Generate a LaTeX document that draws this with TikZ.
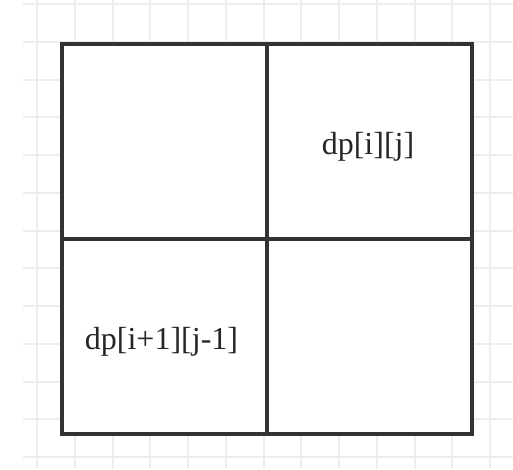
\documentclass[tikz,border=0pt]{standalone}
\usepackage{fontspec}
\setmainfont{Liberation Serif}
\usetikzlibrary{positioning}
\begin{document}
\begin{tikzpicture}
  [x=1pt,y=-1pt,
   gridline/.style={line width=2pt, color=black!7},
   cell/.style={rectangle, draw=black!80, fill=white, line width=4pt, inner sep=0pt, outer sep=0pt, minimum width=205pt, minimum height=195pt},
   lbl/.style={inner sep=0pt, text=black!85, font=\fontsize{32}{38}\selectfont}]

 \useasboundingbox (0,0) rectangle (513,469);
 \fill[white] (0,0) rectangle (513,469);

 \foreach \k in {0,...,12}
   \draw[gridline] (37+37.75*\k,0) -- (37+37.75*\k,469);
 \foreach \k in {0,...,12}
   \draw[gridline] (23,4+37.75*\k) -- (513,4+37.75*\k);

 \node[cell] (c11) at (164.5,141) {};
 \node[cell, right=0pt of c11] (c12) {};
 \node[cell, below=0pt of c11] (c21) {};
 \node[cell, right=0pt of c21] (c22) {};

 \node[lbl] (t12) at ([shift={(-1.5,6)}]c12.center) {dp[i][j]};
 \node[lbl] (t21) at ([shift={(-3,6)}]c21.center) {dp[i+1][j-1]};

\end{tikzpicture}
\end{document}
